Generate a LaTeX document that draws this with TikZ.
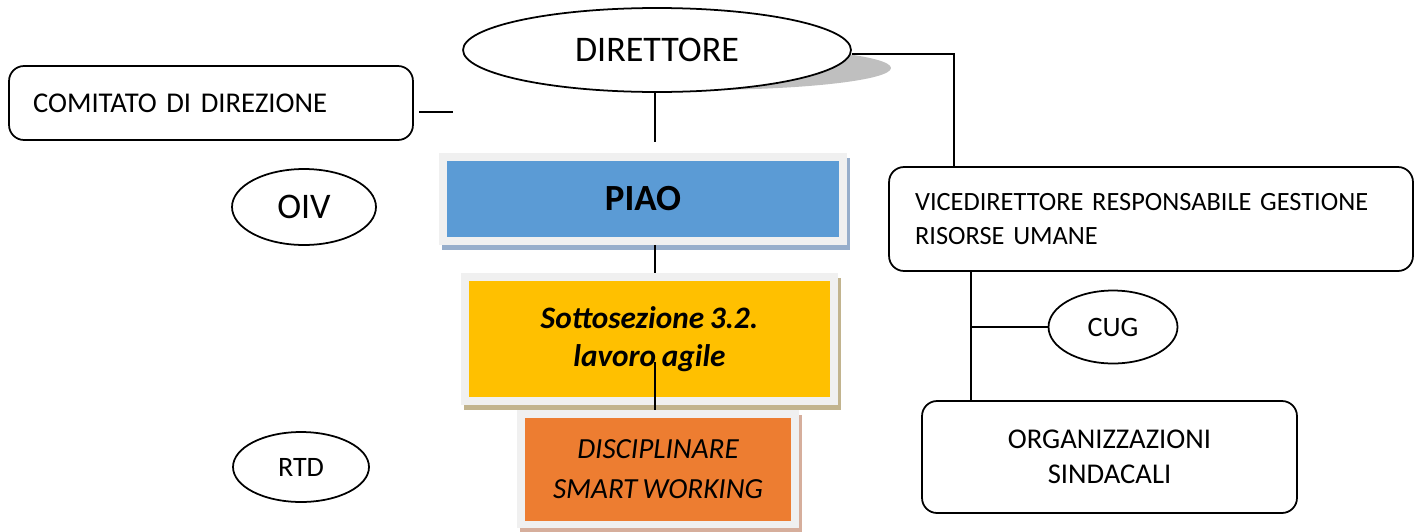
\documentclass[tikz,border=0pt]{standalone}
\usepackage{fontspec}
\setmainfont{Carlito}[WordSpace=0.8]
\usetikzlibrary{shapes.geometric}
\definecolor{piaoblue}{HTML}{5B9BD5}
\definecolor{piaoshade}{HTML}{97AECB}
\definecolor{sottoyellow}{HTML}{FFC000}
\definecolor{sottoshade}{HTML}{C2B48E}
\definecolor{discorange}{HTML}{ED7D31}
\definecolor{discshade}{HTML}{D6AE9C}
\definecolor{frame}{HTML}{F0F0F0}
\tikzset{
	oval/.style={draw,ellipse,line width=1pt,inner sep=0pt,font=\fontsize{16}{19.5}\selectfont},
	rbox/.style={draw,rectangle,rounded corners=0.3cm,line width=1pt,font=\fontsize{16.3}{20}\selectfont},
	sbox/.style={rectangle,draw=frame,line width=0.16cm,outer sep=0.08cm,align=center,
		preaction={draw=#1,fill=#1,line width=0.16cm,transform canvas={shift={(0.06cm,-0.1cm)}}}},
	link/.style={line width=1pt}
}
\begin{document}
\begin{tikzpicture}[x=0.02cm,y=-0.02cm]
	\useasboundingbox (0,0) rectangle (1422,531);
	\fill[black!25] (697,68) ellipse [x radius=3.88cm, y radius=0.44cm];
	\node[oval,fill=white,minimum width=7.76cm,minimum height=1.68cm,font=\fontsize{20.5}{24}\selectfont] (dir) at (657,50) {DIRETTORE};
	\node[rbox,minimum height=1.48cm,text width=7.12cm,inner xsep=0.48cm,align=left] (com) at (211,103) {COMITATO DI DIREZIONE};
	\node[oval,minimum width=2.88cm,minimum height=1.52cm,font=\fontsize{20.5}{24}\selectfont] (oiv) at (304,207) {OIV};
	\node[oval,minimum width=2.72cm,minimum height=1.4cm] (rtd) at (301,467) {RTD};
	\node[sbox=piaoshade,fill=piaoblue,minimum width=8cm,minimum height=1.68cm,font=\fontsize{21}{24}\selectfont\bfseries] (piao) at (643,199) {PIAO};
	\node[sbox=sottoshade,fill=sottoyellow,minimum width=7.38cm,minimum height=2.48cm,font=\fontsize{17.8}{22}\selectfont\bfseries\itshape] (sotto) at (649.5,339) {Sottosezione 3.2.\\lavoro agile};
	\node[sbox=discshade,fill=discorange,minimum width=5.49cm,minimum height=2.22cm,font=\fontsize{16.6}{22.7}\selectfont\itshape] (disc) at (658,469) {DISCIPLINARE\\SMART WORKING};
	\node[rbox,minimum height=2.08cm,text width=9.44cm,inner xsep=0.52cm,align=left,font=\fontsize{15}{19.5}\selectfont] (vice) at (1151,219) {VICEDIRETTORE RESPONSABILE GESTIONE\\RISORSE UMANE};
	\node[oval,minimum width=2.58cm,minimum height=1.46cm] (cug) at (1113,327) {CUG};
	\node[rbox,minimum width=7.5cm,minimum height=2.24cm,align=center] (org) at (1109.5,457) {ORGANIZZAZIONI\\SINDACALI};
	
	\coordinate (ax) at (655,0);
	\coordinate (vx) at (971,0);
	\coordinate (d1) at (655,142);
	\coordinate (v1) at (954,167);
	\coordinate (s1) at (655,362);
	\coordinate (c1) at (419,112);
	\coordinate (c2) at (453,112);
	
	\draw[link] (dir.south -| ax) -- (d1)
	([yshift=-0.08cm]dir.east) -| (v1)
	(piao.south -| ax) -- (sotto.north -| ax)
	(s1) -- (disc.north -| ax)
	(vice.south -| vx) -- (org.north -| vx)
	(cug.west -| vx) -- (cug.west)
	(c1) -- (c2);
\end{tikzpicture}
\end{document}
